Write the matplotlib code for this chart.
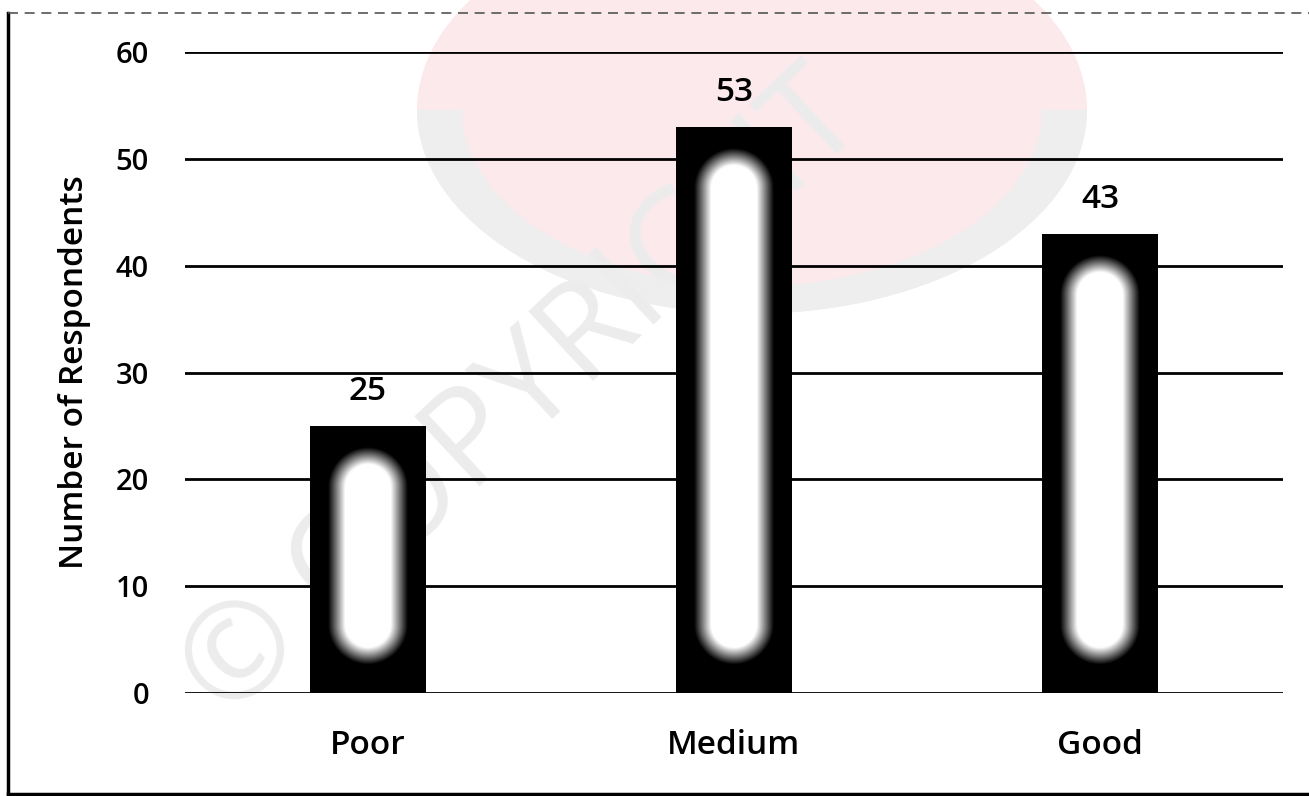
import numpy as np
import matplotlib.pyplot as plt
from matplotlib.patches import Circle, Wedge
from matplotlib.lines import Line2D

categories = ['Poor', 'Medium', 'Good']
respondents = [25, 53, 43]
yticks = [0, 10, 20, 30, 40, 50, 60]

plt.rcParams['font.family'] = ['Open Sans', 'DejaVu Sans']

fig = plt.figure(figsize=(13.09, 7.96), dpi=100)
fig.patch.set_facecolor('white')

# faint watermark behind the chart
fig.patches.append(Circle((752 / 1309, 1 - 110 / 796), 335 / 1309, transform=fig.transFigure,
                          facecolor='#fbe9ec', edgecolor='none', zorder=-2))
fig.patches.append(Wedge((752 / 1309, 1 - 110 / 796), 335 / 1309, 180, 360, width=45 / 1309,
                         transform=fig.transFigure, facecolor='#eeeeee', edgecolor='none', zorder=-1))
fig.text(0.40, 0.50, '\u00a9 COPYRIGHT', rotation=43, fontsize=96, color='#ececec',
         ha='center', va='center', zorder=-1)

ax = fig.add_axes([185 / 1309, 1 - 693 / 796, (1283 - 185) / 1309, (693 - 52) / 796])
ax.set_facecolor('none')
ax.set_xlim(-0.5, 2.5)
ax.set_ylim(0, 60)

x = np.arange(len(categories))
width = 0.315
bars = ax.bar(x, respondents, width=width, color='black', zorder=2)

# white glow inside each bar (capsule shape, soft edge)
sx = 1098 / 3.0        # px per x unit
sy = 641 / 60.0        # px per y unit
for b in bars:
    x0, w, h = b.get_x(), b.get_width(), b.get_height()
    nx, ny = 120, int(h * sy)
    px = np.linspace(0, w * sx, nx)
    py = np.linspace(0, h * sy, ny)
    X, Y = np.meshgrid(px, py)
    r = w * sx * 0.33
    cx = w * sx / 2
    y_lo = 2.8 * sy + r
    y_hi = h * sy - 2.2 * sy - r
    Yc = np.clip(Y, y_lo, y_hi)
    d = np.sqrt((X - cx) ** 2 + (Y - Yc) ** 2)
    val = np.clip(1 - (d - r * 0.6) / (r * 0.45), 0, 1)
    rgba = np.zeros((ny, nx, 4))
    rgba[..., :3] = 1
    rgba[..., 3] = val
    ax.imshow(rgba, extent=(x0, x0 + w, 0, h), origin='lower', aspect='auto',
              interpolation='bilinear', zorder=3)

for b, v in zip(bars, respondents):
    ax.annotate(str(v), (b.get_x() + b.get_width() / 2, v), xytext=(0, 13),
                textcoords='offset points', ha='center', va='bottom', fontsize=24,
                fontweight='semibold')

ax.set_yticks(yticks)
ax.set_xticks(x)
ax.set_xticklabels(categories, fontsize=24, fontweight='semibold')
for t in ax.get_yticklabels():
    t.set_fontweight('semibold')
ax.tick_params(axis='y', length=0, pad=26, labelsize=21)
ax.tick_params(axis='x', length=0, pad=26)
ax.yaxis.grid(True, color='black', linewidth=2.0, zorder=1)
ax.set_axisbelow(True)
for s in ax.spines.values():
    s.set_visible(False)
ax.set_ylabel('Number of Respondents', fontsize=24, fontweight='semibold', labelpad=18)

# scanned border
fig.add_artist(Line2D([8 / 1309, 8 / 1309], [1 - 13 / 796, 1 - 795 / 796], transform=fig.transFigure,
                      color='black', linewidth=2.5))
fig.add_artist(Line2D([8 / 1309, 1], [1 - 13 / 796, 1 - 13 / 796], transform=fig.transFigure,
                      color='#555555', linewidth=1.2, linestyle=(0, (6, 4))))
fig.add_artist(Line2D([8 / 1309, 1], [1 - 794 / 796, 1 - 794 / 796], transform=fig.transFigure,
                      color='black', linewidth=2.5))

fig.savefig('out.png', dpi=100, facecolor='white')
